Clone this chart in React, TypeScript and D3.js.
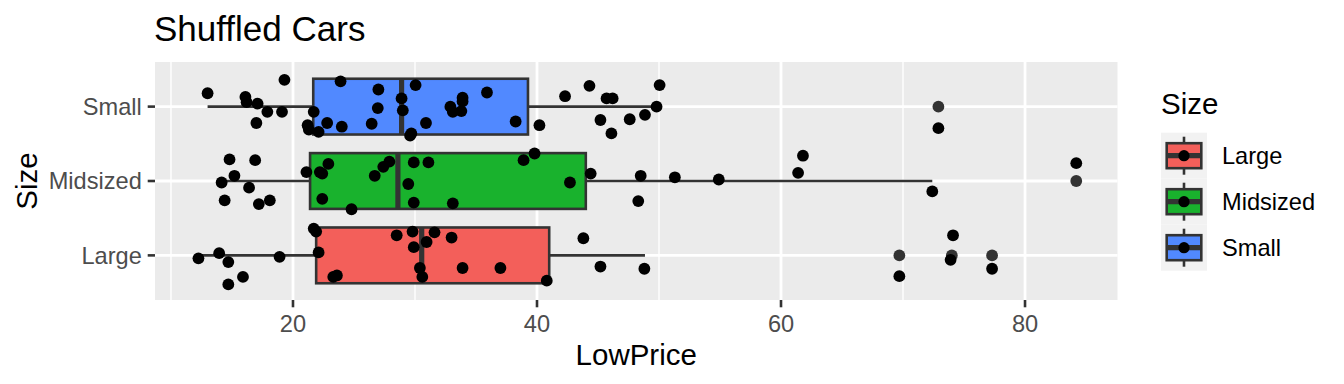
import React from "react";
import * as d3 from "d3";

const categories = ["Small", "Midsized", "Large"];
const legendOrder = ["Large", "Midsized", "Small"];
const xTicks = [20, 40, 60, 80];
const xMinor = [10, 30, 50, 70];

const fillColors: Record<string, string> = {
  Large: "#F35F5A",
  Midsized: "#19B22D",
  Small: "#5189FF",
};

// boxplot statistics: [lowerWhisker, q1, median, q3, upperWhisker]
const smallStats = [13.0, 21.66, 28.9, 39.26, 49.8];
const midsizedStats = [14.15, 21.4, 28.6, 44.0, 72.4];
const largeStats = [12.25, 21.9, 30.55, 41.0, 48.85];

const smallOutliers = [72.9];
const midsizedOutliers = [84.2];
const largeOutliers = [69.7, 74.0, 77.3];

// jittered points: value and vertical jitter (category units)
const smallValues = [13.0, 19.3, 16.1, 16.2, 17.1, 17.0, 17.9, 19.1, 21.7, 21.2, 21.3, 22.1, 22.8, 23.9, 24.0, 26.45, 27.0, 26.95, 28.9, 29.0, 30.05, 29.7, 29.6, 30.9, 32.9, 33.1, 33.9, 33.9, 33.8, 35.9, 38.25, 40.2, 42.3, 44.3, 45.7, 46.2, 50.05, 49.8, 45.2, 46.1, 47.6, 48.85, 72.9];
const smallJitter = [-0.18, -0.36, -0.13, -0.06, -0.04, 0.22, 0.07, 0.07, 0.07, 0.25, 0.31, 0.34, 0.22, -0.34, 0.27, 0.23, -0.23, 0.02, -0.11, 0.05, -0.29, 0.36, 0.39, 0.22, 0.0, 0.07, -0.12, -0.07, 0.06, -0.19, 0.2, 0.25, -0.14, -0.28, -0.11, -0.11, -0.29, 0.0, 0.18, 0.36, 0.17, 0.11, 0.29];

const midsizedValues = [14.8, 16.9, 15.2, 14.15, 16.4, 14.4, 17.2, 18.1, 21.1, 22.2, 22.4, 22.9, 22.4, 24.8, 26.7, 27.4, 27.9, 29.45, 29.9, 31.1, 29.9, 33.1, 38.9, 39.8, 42.7, 44.4, 48.5, 48.3, 51.3, 54.9, 61.4, 61.8, 72.4, 84.2];
const midsizedJitter = [-0.29, -0.28, -0.07, 0.02, 0.09, 0.26, 0.31, 0.26, -0.12, -0.12, -0.1, -0.23, 0.24, 0.38, -0.07, -0.19, -0.26, 0.04, -0.25, -0.25, 0.29, 0.3, -0.28, -0.37, 0.02, -0.1, -0.07, 0.27, -0.05, -0.02, -0.11, -0.34, 0.14, -0.24];

const largeValues = [12.25, 13.95, 14.7, 14.7, 15.9, 18.9, 21.7, 21.9, 22.1, 23.3, 23.6, 28.5, 29.8, 29.9, 30.95, 31.6, 33.0, 30.4, 30.6, 33.9, 37.0, 40.8, 43.8, 45.2, 48.8, 69.7, 74.1, 73.9, 77.3];
const largeJitter = [0.04, -0.03, 0.09, 0.39, 0.29, 0.02, -0.36, -0.32, -0.04, 0.29, 0.27, -0.27, -0.32, -0.11, -0.18, -0.31, -0.24, 0.17, 0.29, 0.17, 0.17, 0.34, -0.23, 0.15, 0.18, 0.28, -0.27, 0.06, 0.18];

const groups = [
  { name: "Small", stats: smallStats, outliers: smallOutliers, values: smallValues, jitter: smallJitter },
  { name: "Midsized", stats: midsizedStats, outliers: midsizedOutliers, values: midsizedValues, jitter: midsizedJitter },
  { name: "Large", stats: largeStats, outliers: largeOutliers, values: largeValues, jitter: largeJitter },
];

const FONT = "'Liberation Sans', Arial, Helvetica, sans-serif";

export default function App() {
  const W = 1344, H = 384;
  const pL = 155, pR = 1117.5, pT = 62, pB = 300;
  const x = d3.scaleLinear().domain([8.69, 87.58]).range([pL, pR]);
  // discrete axis: positions 1..3 with 0.6 expansion
  const unit = (pB - pT) / 3.2;
  const yPos = (name: string) => pT + (0.6 + categories.indexOf(name)) * unit;
  const boxHalf = 0.375 * unit;
  const dark = "#333333";
  const pointR = 5.9;

  return (
    <svg width={W} height={H} style={{ position: "absolute", left: 0, top: 0, background: "#fff" }} fontFamily={FONT}>
      <rect x={0} y={0} width={W} height={H} fill="#fff" />
      {/* title */}
      <text x={pL - 1} y={41} fontSize={35} fill="#000">Shuffled Cars</text>
      {/* panel */}
      <rect x={pL} y={pT} width={pR - pL} height={pB - pT} fill="#EBEBEB" />
      {xMinor.map((v) => (
        <line key={"mn" + v} x1={x(v)} x2={x(v)} y1={pT} y2={pB} stroke="#fff" strokeWidth={1.4} />
      ))}
      {xTicks.map((v) => (
        <line key={"mj" + v} x1={x(v)} x2={x(v)} y1={pT} y2={pB} stroke="#fff" strokeWidth={2.8} />
      ))}
      {categories.map((c) => (
        <line key={"hg" + c} x1={pL} x2={pR} y1={yPos(c)} y2={yPos(c)} stroke="#fff" strokeWidth={2.8} />
      ))}
      {/* boxplots */}
      {groups.map((g) => {
        const cy = yPos(g.name);
        const [lo, q1, med, q3, hi] = g.stats;
        return (
          <g key={"box" + g.name}>
            <line x1={x(lo)} x2={x(q1)} y1={cy} y2={cy} stroke={dark} strokeWidth={2.6} />
            <line x1={x(q3)} x2={x(hi)} y1={cy} y2={cy} stroke={dark} strokeWidth={2.6} />
            <rect x={x(q1)} y={cy - boxHalf} width={x(q3) - x(q1)} height={2 * boxHalf} fill={fillColors[g.name]} stroke={dark} strokeWidth={2.6} />
            <line x1={x(med)} x2={x(med)} y1={cy - boxHalf} y2={cy + boxHalf} stroke={dark} strokeWidth={5.2} />
            {g.outliers.map((o, i) => (
              <circle key={"o" + i} cx={x(o)} cy={cy} r={pointR} fill={dark} />
            ))}
          </g>
        );
      })}
      {/* jittered points */}
      {groups.map((g) => {
        const cy = yPos(g.name);
        return (
          <g key={"pts" + g.name}>
            {g.values.map((v, i) => (
              <circle key={i} cx={x(v)} cy={cy + g.jitter[i] * unit} r={pointR} fill="#000" />
            ))}
          </g>
        );
      })}
      {/* y axis */}
      {categories.map((c) => (
        <g key={"yt" + c}>
          <line x1={pL - 7.3} x2={pL} y1={yPos(c)} y2={yPos(c)} stroke={dark} strokeWidth={2.6} />
          <text x={pL - 13.2} y={yPos(c) + 8.3} fontSize={23.6} fill="#4D4D4D" textAnchor="end">{c}</text>
        </g>
      ))}
      {/* x axis */}
      {xTicks.map((v) => (
        <g key={"xt" + v}>
          <line x1={x(v)} x2={x(v)} y1={pB} y2={pB + 7.3} stroke={dark} strokeWidth={2.6} />
          <text x={x(v)} y={332} fontSize={23.6} fill="#4D4D4D" textAnchor="middle">{v}</text>
        </g>
      ))}
      <text x={(pL + pR) / 2} y={365} fontSize={29.5} fill="#000" textAnchor="middle">LowPrice</text>
      <text transform={`translate(37, ${(pT + pB) / 2}) rotate(-90)`} fontSize={29.5} fill="#000" textAnchor="middle">Size</text>
      {/* legend */}
      <text x={1161} y={114} fontSize={29.5} fill="#000">Size</text>
      {legendOrder.map((name, i) => {
        const kx = 1161, ky = 132.7 + i * 46, ks = 46;
        const cx = kx + ks / 2, cy = ky + ks / 2;
        return (
          <g key={"lg" + name}>
            <rect x={kx} y={ky} width={ks} height={ks} fill="#F2F2F2" />
            <line x1={cx} x2={cx} y1={ky + 4} y2={ky + ks - 4} stroke={dark} strokeWidth={2.6} />
            <rect x={kx + 5.7} y={cy - 12.5} width={ks - 11.4} height={25} fill={fillColors[name]} stroke={dark} strokeWidth={2.6} />
            <line x1={kx + 5.7} x2={kx + ks - 5.7} y1={cy} y2={cy} stroke={dark} strokeWidth={5.2} />
            <circle cx={cx} cy={cy} r={5.6} fill="#000" />
            <text x={1222} y={cy + 8.3} fontSize={23.6} fill="#000">{name}</text>
          </g>
        );
      })}
    </svg>
  );
}
